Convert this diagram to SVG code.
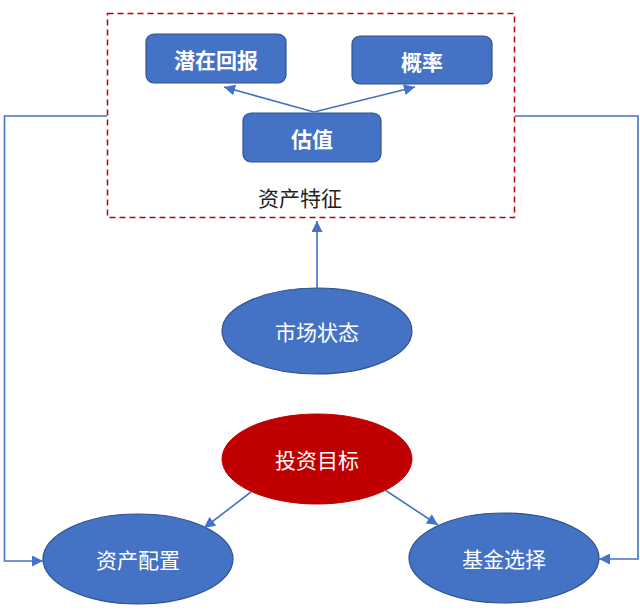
<svg xmlns="http://www.w3.org/2000/svg" width="640" height="614" viewBox="0 0 640 614">
<style>
.box{fill:#4472C4;stroke:#2F528F;stroke-width:1.2}
.ell{fill:#4472C4;stroke:#2F528F;stroke-width:1.2}
.red{fill:#C00000;stroke:#C00000;stroke-width:1}
.bt{font-family:"Noto Sans CJK SC","Noto Sans",sans-serif;font-size:21px;font-weight:bold;fill:#fff;text-anchor:middle;dominant-baseline:central}
.et{font-family:"Noto Sans CJK SC","Noto Sans",sans-serif;font-size:21px;fill:#fff;text-anchor:middle;dominant-baseline:central}
.lt{font-family:"Noto Sans CJK SC","Noto Sans",sans-serif;font-size:21px;fill:#222;text-anchor:middle;dominant-baseline:central}
.con{fill:none;stroke:#4472C4;stroke-width:1.6}
</style>
<defs>
<marker id="ahb" viewBox="0 0 10 10" refX="10" refY="5" markerWidth="12" markerHeight="11" orient="auto" markerUnits="userSpaceOnUse">
<path d="M0,0 L10,5 L0,10 z" fill="#4472C4"/>
</marker>
</defs>
<rect width="640" height="614" fill="#fff"/>
<g id="asset-features">
<rect x="107.5" y="13.5" width="407" height="204" fill="none" stroke="#C00000" stroke-width="1.5" stroke-dasharray="6,4"/>
<text class="lt" x="300" y="197">资产特征</text>
</g>
<g id="potential-return">
<rect class="box" x="146" y="34" width="140" height="49" rx="8"/>
<text class="bt" x="216" y="59">潜在回报</text>
</g>
<g id="probability">
<rect class="box" x="352" y="36" width="140" height="48" rx="8"/>
<text class="bt" x="422" y="61">概率</text>
</g>
<g id="valuation">
<rect class="box" x="243" y="113" width="138" height="49" rx="8"/>
<text class="bt" x="312" y="138">估值</text>
</g>
<g id="market-state">
<ellipse class="ell" cx="317" cy="331" rx="95" ry="43"/>
<text class="et" x="317" y="331">市场状态</text>
</g>
<g id="investment-goal">
<ellipse class="red" cx="317" cy="459" rx="95" ry="45"/>
<text class="et" x="317" y="459">投资目标</text>
</g>
<g id="asset-allocation">
<ellipse class="ell" cx="138" cy="559" rx="95" ry="45"/>
<text class="et" x="138" y="559">资产配置</text>
</g>
<g id="fund-selection">
<ellipse class="ell" cx="504" cy="558" rx="95" ry="45"/>
<text class="et" x="504" y="558">基金选择</text>
</g>
<g id="connectors">
<path class="con" d="M314,112 L224,87" marker-end="url(#ahb)"/>
<path class="con" d="M314,112 L415,87" marker-end="url(#ahb)"/>
<path class="con" d="M317,288 L317,221" marker-end="url(#ahb)"/>
<path class="con" d="M251,492 L204,528" marker-end="url(#ahb)"/>
<path class="con" d="M385,490 L438,525" marker-end="url(#ahb)"/>
<path class="con" d="M107,116 L4.5,116 L4.5,561 L43,561" marker-end="url(#ahb)"/>
<path class="con" d="M515,116 L638,116 L638,559 L599,559" marker-end="url(#ahb)"/>
</g>
</svg>
